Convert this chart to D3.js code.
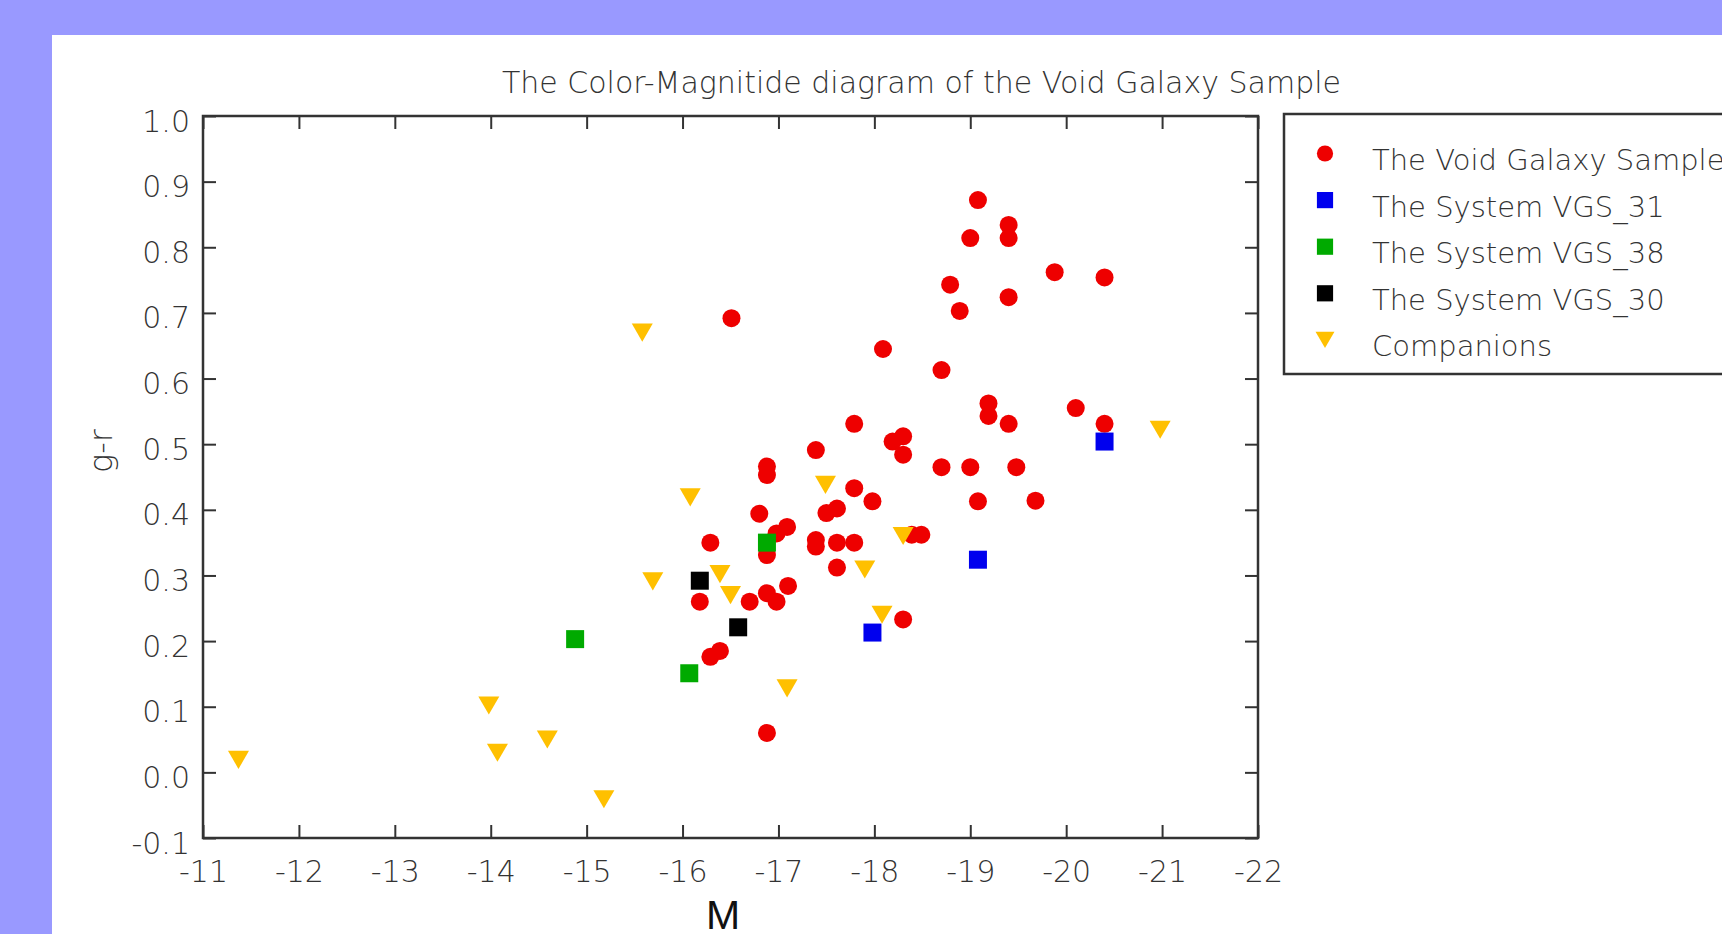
<!DOCTYPE html>
<html>
<head>
<meta charset="utf-8">
<script src="https://cdn.jsdelivr.net/npm/d3@7"></script>
<style>
	body { margin: 0; background: #9999ff; overflow: hidden; }
	svg { display: block; }
	text { font-family: 'DejaVu Sans', sans-serif; font-weight: 200; }
</style>
</head>
<body>
<div></div>
<script>
// series (x = M, y = g-r)
const voidM = [-19.08, -19.40, -19.40, -19.00, -19.88, -20.40, -18.79, -19.40, -18.89, -16.51,
	-18.09, -18.70, -19.19, -20.10, -19.19, -19.40, -20.40, -17.79, -18.30, -18.19,
	-18.30, -17.39, -16.88, -16.88, -18.70, -19.00, -19.48, -17.79, -17.98, -19.08,
	-19.68, -17.61, -17.50, -16.80, -17.09, -16.98, -16.88, -16.29, -17.39, -17.39,
	-17.61, -17.79, -18.39, -18.49, -17.61, -17.10, -16.88, -16.98, -16.70, -16.18,
	-18.30, -16.39, -16.29, -16.88];
const voidGR = [0.872, 0.834, 0.814, 0.814, 0.762, 0.754, 0.743, 0.724, 0.703, 0.692,
	0.645, 0.613, 0.562, 0.555, 0.543, 0.531, 0.531, 0.531, 0.512, 0.504,
	0.484, 0.491, 0.466, 0.453, 0.465, 0.465, 0.465, 0.433, 0.413, 0.413,
	0.414, 0.402, 0.395, 0.394, 0.374, 0.364, 0.331, 0.350, 0.354, 0.344,
	0.350, 0.350, 0.362, 0.362, 0.312, 0.284, 0.273, 0.260, 0.260, 0.260,
	0.233, 0.185, 0.176, 0.060];

const vgs31M = [-17.98, -19.08, -20.40];
const vgs31GR = [0.213, 0.324, 0.504];

const vgs38M = [-14.88, -16.07, -16.88];
const vgs38GR = [0.203, 0.151, 0.350];

const vgs30M = [-16.18, -16.58];
const vgs30GR = [0.292, 0.221];

const compM = [-11.37, -13.98, -14.07, -14.59, -15.18, -15.58, -16.08, -15.69, -16.39, -16.50,
	-17.09, -17.49, -17.90, -18.08, -18.30, -20.98];
const compGR = [0.019, 0.102, 0.030, 0.050, -0.041, 0.670, 0.419, 0.291, 0.302, 0.270,
	0.128, 0.438, 0.309, 0.240, 0.360, 0.522];

const xTicks = [-11, -12, -13, -14, -15, -16, -17, -18, -19, -20, -21, -22];
const yTicks = [1.0, 0.9, 0.8, 0.7, 0.6, 0.5, 0.4, 0.3, 0.2, 0.1, 0.0, -0.1];

const seriesNames = ['The Void Galaxy Sample', 'The System VGS_31', 'The System VGS_38', 'The System VGS_30', 'Companions'];
const seriesColors = ['#ee0000', '#0000ee', '#00aa00', '#000000', '#ffc000'];

const width = 1722,
	height = 934;
const plot = { left: 203, right: 1258, top: 116, bottom: 838 };

const downTriangle = {
	draw(ctx, size) {
		const h = size / 2;
		ctx.moveTo(-h, -h * 0.86);
		ctx.lineTo(h, -h * 0.86);
		ctx.lineTo(0, h * 0.86);
		ctx.closePath();
	}
};
const squareBox = {
	draw(ctx, size) {
		const h = size / 2;
		ctx.rect(-h, -h, size, size);
	}
};
const roundDot = {
	draw(ctx, size) {
		const r = size / 2;
		ctx.moveTo(r, 0);
		ctx.arc(0, 0, r, 0, Math.PI * 2);
	}
};
const seriesShapes = [roundDot, squareBox, squareBox, squareBox, downTriangle];
const seriesSizes = [18, 18, 18, 18, 21];

const series = [
	[voidM, voidGR],
	[vgs31M, vgs31GR],
	[vgs38M, vgs38GR],
	[vgs30M, vgs30GR],
	[compM, compGR]
].map((s, i) => ({
	name: seriesNames[i],
	color: seriesColors[i],
	shape: seriesShapes[i],
	size: seriesSizes[i],
	points: s[0].map((m, j) => [m, s[1][j]])
}));

const xScale = d3.scaleLinear()
	.domain([-11, -22])
	.range([plot.left, plot.right]);

const yScale = d3.scaleLinear()
	.domain([-0.1, 1.0])
	.range([plot.bottom, plot.top]);

const svg = d3.select('body')
	.select('div')
	.append('svg')
	.attr('width', width)
	.attr('height', height);

svg.append('rect')
	.attr('x', 52)
	.attr('y', 35)
	.attr('width', width - 52)
	.attr('height', height - 35)
	.attr('fill', '#fff');

svg.append('text')
	.attr('x', 502)
	.attr('y', 93)
	.attr('fill', '#333')
	.style('font-size', '30px')
	.attr('textLength', 839)
	.attr('lengthAdjust', 'spacingAndGlyphs')
	.text('The Color-Magnitide diagram of the Void Galaxy Sample');

const fmtX = d => String(d);
const fmtY = d => d3.format('.1f')(d).replace('\u2212', '-');

const xAxis = d3.axisBottom(xScale)
	.tickValues(xTicks)
	.tickSize(-13)
	.tickPadding(22)
	.tickFormat(fmtX);

const yAxis = d3.axisLeft(yScale)
	.tickValues(yTicks)
	.tickSize(-13)
	.tickPadding(13)
	.tickFormat(fmtY);

const gx = svg.append('g')
	.attr('id', 'x-axis')
	.attr('transform', `translate(0, ${plot.bottom})`)
	.call(xAxis);

const gy = svg.append('g')
	.attr('id', 'y-axis')
	.attr('transform', `translate(${plot.left}, 0)`)
	.call(yAxis);

svg.append('g')
	.attr('transform', `translate(0, ${plot.top})`)
	.call(d3.axisTop(xScale).tickValues(xTicks).tickSize(-13).tickFormat(''));

svg.append('g')
	.attr('transform', `translate(${plot.right}, 0)`)
	.call(d3.axisRight(yScale).tickValues(yTicks).tickSize(-13).tickFormat(''));

svg.selectAll('.domain').remove();
svg.selectAll('.tick line')
	.attr('stroke', '#333')
	.attr('stroke-width', 2);

[gx, gy].forEach(g => g.selectAll('text')
	.attr('fill', '#333')
	.style('font-family', "'DejaVu Sans', sans-serif")
	.style('font-weight', 200)
	.style('font-size', '30px'));
gx.selectAll('text').attr('dy', '0.72em');
gy.selectAll('text').attr('dy', '0.5em');

svg.append('rect')
	.attr('x', plot.left)
	.attr('y', plot.top)
	.attr('width', plot.right - plot.left)
	.attr('height', plot.bottom - plot.top)
	.attr('fill', 'none')
	.attr('stroke', '#333')
	.attr('stroke-width', 2.5);

svg.append('text')
	.attr('transform', 'translate(112, 451) rotate(-90)')
	.attr('text-anchor', 'middle')
	.attr('fill', '#333')
	.style('font-size', '32px')
	.text('g-r');

svg.append('text')
	.attr('x', 723)
	.attr('y', 929)
	.attr('text-anchor', 'middle')
	.attr('fill', '#111')
	.style('font-family', "'Liberation Sans', Arial, sans-serif")
	.style('font-weight', 400)
	.style('font-size', '41px')
	.text('M');

const marks = svg.append('g');
series.forEach(s => {
	marks.append('g')
		.selectAll('path')
		.data(s.points)
		.enter()
		.append('path')
		.attr('transform', d => `translate(${xScale(d[0])}, ${yScale(d[1])})`)
		.attr('d', d3.symbol(s.shape, s.size))
		.attr('fill', s.color);
});

// legend
const legend = svg.append('g')
	.attr('transform', 'translate(1284, 114)');

legend.append('rect')
	.attr('width', 480)
	.attr('height', 260)
	.attr('fill', '#fff')
	.attr('stroke', '#333')
	.attr('stroke-width', 2.5);

const item = legend.selectAll('.item')
	.data(series)
	.enter()
	.append('g')
	.attr('class', 'item')
	.attr('transform', (d, i) => `translate(0, ${39.5 + i * 46.6})`);

item.append('path')
	.attr('transform', 'translate(41, 0)')
	.attr('d', d => d3.symbol(d.shape, d.size * 0.9)())
	.attr('fill', d => d.color);

item.append('text')
	.attr('x', 88)
	.attr('y', 16.5)
	.attr('fill', '#333')
	.style('font-size', '29px')
	.text(d => d.name);
</script>
</body>
</html>
